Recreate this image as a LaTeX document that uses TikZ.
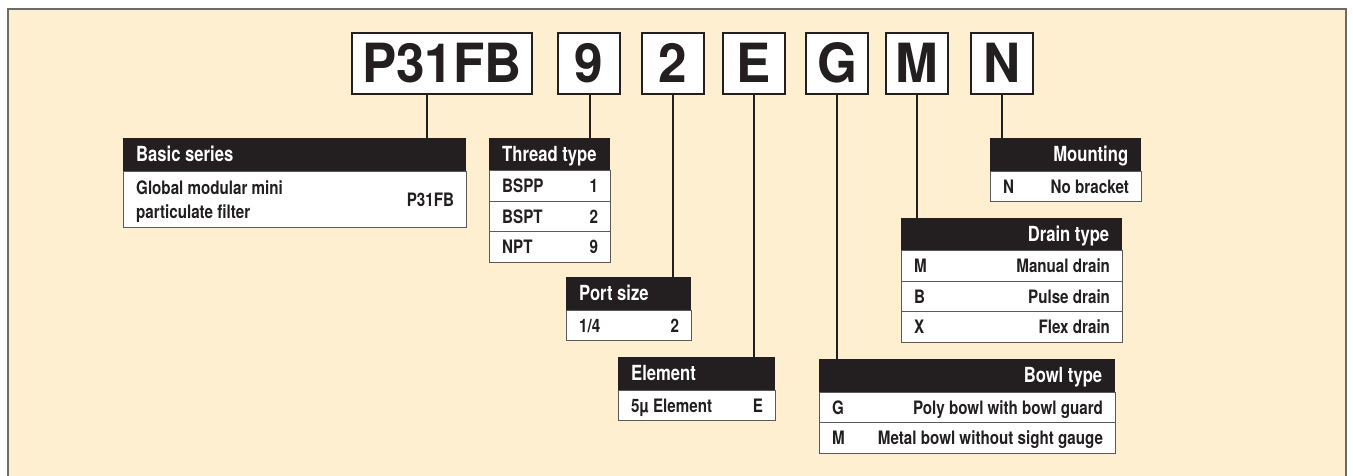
\documentclass[tikz,border=0pt]{standalone}
\usepackage{fontspec}
\usepackage{tikz}
\newfontfamily\hvfont[FakeStretch=0.95]{TeX Gyre Heros}
\newfontfamily\hvcond[FakeStretch=0.8]{TeX Gyre Heros}
\newfontfamily\hvrow[FakeStretch=0.82]{TeX Gyre Heros}
\definecolor{cream}{HTML}{FEEFD0}
\definecolor{ink}{HTML}{231F20}
\definecolor{rule}{HTML}{5A5A5C}
\definecolor{frame}{HTML}{6E6A66}

\tikzset{
  codebox/.style={draw=ink, line width=2pt, fill=white, minimum height=61pt, inner sep=0pt,
    font=\hvfont\bfseries\fontsize{54pt}{54pt}\selectfont, text=ink, text height=38.9pt, text depth=0pt},
  headbar/.style={fill=ink, minimum height=32.5pt, inner sep=0pt, anchor=north west},
  rowbox/.style={draw=rule, line width=1.2pt, fill=white, minimum height=30.5pt, inner sep=0pt, anchor=north west},
  headtext/.style={text=white, inner sep=0pt, text height=15pt, text depth=0pt,
    font=\hvcond\bfseries\fontsize{20.8pt}{24pt}\selectfont},
  rowtext/.style={text=ink, inner sep=0pt, text height=13.3pt, text depth=0pt,
    font=\hvrow\bfseries\fontsize{18.5pt}{24pt}\selectfont},
  link/.style={draw=ink, line width=2pt}
}

\begin{document}
\begin{tikzpicture}[x=1pt,y=-1pt]
\useasboundingbox (0,0) rectangle (1353,475);
\fill[cream] (8,9) rectangle (1346,480);
\draw[frame, line width=1.3pt] (8,480) -- (8,9) -- (1346,9) -- (1346,480);

\node (cP31FB) at (442,63.5) [codebox, minimum width=180pt] {P31FB};
\foreach \t/\x in {9/588.5,2/673,E/754,G/837,M/917,N/1002}
\node (c\t) at (\x,63.5) [codebox, minimum width=62pt] {\t};

\node (hBasic) at (123,138) [headbar, minimum width=343pt] {};
\node at ([xshift=13pt]hBasic.west) [headtext, anchor=west] {Basic series};
\node (rBasic) at (123,171) [rowbox, minimum width=343pt, minimum height=56pt] {};
\node at ([xshift=13pt,yshift=12pt]rBasic.west) [rowtext, anchor=west] {Global modular mini};
\node at ([xshift=13pt,yshift=-12pt]rBasic.west) [rowtext, anchor=west] {particulate filter};
\node at ([xshift=-13pt]rBasic.east) [rowtext, anchor=east] {P31FB};

\node (hThread) at (489,138) [headbar, minimum width=121pt] {};
\node at ([xshift=13pt]hThread.west) [headtext, anchor=west] {Thread type};
\foreach \a/\b [count=\i from 0] in {BSPP/1,BSPT/2,NPT/9}{
\node (rThread\i) at (489,170+30.5*\i) [rowbox, minimum width=121pt] {};
\node at ([xshift=13pt]rThread\i.west) [rowtext, anchor=west] {\a};
\node at ([xshift=-13pt]rThread\i.east) [rowtext, anchor=east] {\b};
}

\node (hPort) at (566,277) [headbar, minimum width=125pt] {};
\node at ([xshift=13pt]hPort.west) [headtext, anchor=west] {Port size};
\node (rPort) at (566,309.5) [rowbox, minimum width=125pt] {};
\node at ([xshift=13pt]rPort.west) [rowtext, anchor=west] {1/4};
\node at ([xshift=-13pt]rPort.east) [rowtext, anchor=east] {2};

\node (hElement) at (618,357) [headbar, minimum width=157pt] {};
\node at ([xshift=13pt]hElement.west) [headtext, anchor=west] {Element};
\node (rElement) at (618,389.5) [rowbox, minimum width=157pt] {};
\node at ([xshift=13pt]rElement.west) [rowtext, anchor=west] {5µ Element};
\node at ([xshift=-13pt]rElement.east) [rowtext, anchor=east] {E};

\node (hBowl) at (819,359) [headbar, minimum width=296pt] {};
\node at ([xshift=-13pt]hBowl.east) [headtext, anchor=east] {Bowl type};
\foreach \a/\b [count=\i from 0] in {G/Poly bowl with bowl guard,M/Metal bowl without sight gauge}{
\node (rBowl\i) at (819,391.5+30.5*\i) [rowbox, minimum width=296pt] {};
\node at ([xshift=13pt]rBowl\i.west) [rowtext, anchor=west] {\a};
\node at ([xshift=-13pt]rBowl\i.east) [rowtext, anchor=east] {\b};
}

\node (hDrain) at (901,218) [headbar, minimum width=221pt] {};
\node at ([xshift=-13pt]hDrain.east) [headtext, anchor=east] {Drain type};
\foreach \a/\b [count=\i from 0] in {M/Manual drain,B/Pulse drain,X/Flex drain}{
\node (rDrain\i) at (901,250+30.5*\i) [rowbox, minimum width=221pt] {};
\node at ([xshift=13pt]rDrain\i.west) [rowtext, anchor=west] {\a};
\node at ([xshift=-13pt]rDrain\i.east) [rowtext, anchor=east] {\b};
}

\node (hMount) at (990,138) [headbar, minimum width=151pt] {};
\node at ([xshift=-13pt]hMount.east) [headtext, anchor=east] {Mounting};
\node (rMount) at (990,170.5) [rowbox, minimum width=151pt] {};
\node at ([xshift=13pt]rMount.west) [rowtext, anchor=west] {N};
\node at ([xshift=-13pt]rMount.east) [rowtext, anchor=east] {No bracket};

\draw[link] ([xshift=-15pt]cP31FB.south) -- ([xshift=-15pt]cP31FB.south |- hBasic.north);
\draw[link] ([xshift=1.5pt]c9.south) -- ([xshift=1.5pt]c9.south |- hThread.north);
\draw[link] (c2.south) -- (c2.south |- hPort.north);
\draw[link] (cE.south) -- (cE.south |- hElement.north);
\draw[link] (cG.south) -- (cG.south |- hBowl.north);
\draw[link] (cM.south) -- (cM.south |- hDrain.north);
\draw[link] (cN.south) -- (cN.south |- hMount.north);
\end{tikzpicture}
\end{document}
